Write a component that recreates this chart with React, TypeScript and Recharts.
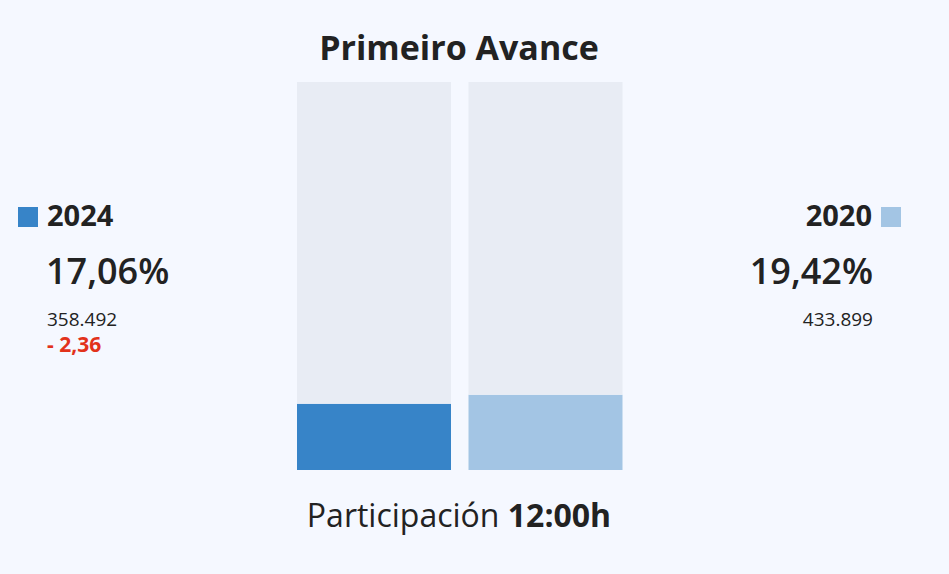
import { BarChart, Bar, XAxis, YAxis, Cell } from "recharts";

const years = ["2024", "2020"];
const turnout = [17.06, 19.42];
const turnoutLabels = ["17,06%", "19,42%"];
const voters = ["358.492", "433.899"];
const diffLabel = "- 2,36";

const COLORS = ["#3784c8", "#a3c5e4"];
const TRACK = "#e8ecf4";
const INK = "#222222";
const FONT = "'Open Sans', 'Noto Sans', sans-serif";

const chartData = years.map((y, i) => ({
  year: y,
  value: turnout[i],
  rest: 100 - turnout[i],
}));

export default function App() {
  return (
    <div
      style={{
        position: "absolute",
        left: 0,
        top: 0,
        width: 949,
        height: 574,
        background: "#f5f8ff",
        fontFamily: FONT,
        color: INK,
        overflow: "hidden",
      }}
    >
      <BarChart
        width={949}
        height={574}
        data={chartData}
        margin={{ top: 82, right: 318, bottom: 104, left: 288 }}
        barCategoryGap={9}
      >
        <XAxis dataKey="year" hide />
        <YAxis domain={[0, 100]} hide />
        <Bar dataKey="value" stackId="a" isAnimationActive={false}>
          {chartData.map((_, i) => (
            <Cell key={i} fill={COLORS[i]} />
          ))}
        </Bar>
        <Bar dataKey="rest" stackId="a" fill={TRACK} isAnimationActive={false} />
      </BarChart>

      <div style={{ position: "absolute", left: 0, width: 918, top: 24, textAlign: "center", fontSize: 34, fontWeight: 700, lineHeight: "46px" }}>
        Primeiro Avance
      </div>

      {/* left: 2024 */}
      <div style={{ position: "absolute", left: 18, top: 207, width: 20, height: 20, background: COLORS[0] }} />
      <div style={{ position: "absolute", left: 47, top: 197, fontSize: 29, fontWeight: 700, lineHeight: "36px" }}>{years[0]}</div>
      <div style={{ position: "absolute", left: 46, top: 248, fontSize: 36, fontWeight: 600, lineHeight: "46px" }}>{turnoutLabels[0]}</div>
      <div style={{ position: "absolute", left: 47, top: 307, fontSize: 19, lineHeight: "25px" }}>{voters[0]}</div>
      <div style={{ position: "absolute", left: 47, top: 331, fontSize: 21, fontWeight: 700, lineHeight: "26px", color: "#e2321b" }}>{diffLabel}</div>

      {/* right: 2020 */}
      <div style={{ position: "absolute", left: 881, top: 207, width: 20, height: 20, background: COLORS[1] }} />
      <div style={{ position: "absolute", right: 949 - 872, top: 197, fontSize: 29, fontWeight: 700, lineHeight: "36px" }}>{years[1]}</div>
      <div style={{ position: "absolute", right: 949 - 873, top: 248, fontSize: 36, fontWeight: 600, lineHeight: "46px" }}>{turnoutLabels[1]}</div>
      <div style={{ position: "absolute", right: 949 - 873, top: 307, fontSize: 19, lineHeight: "25px" }}>{voters[1]}</div>

      <div style={{ position: "absolute", left: 0, width: 918, top: 492, textAlign: "center", fontSize: 32, lineHeight: "46px" }}>
        Participación <span style={{ fontWeight: 700 }}>12:00h</span>
      </div>
    </div>
  );
}
